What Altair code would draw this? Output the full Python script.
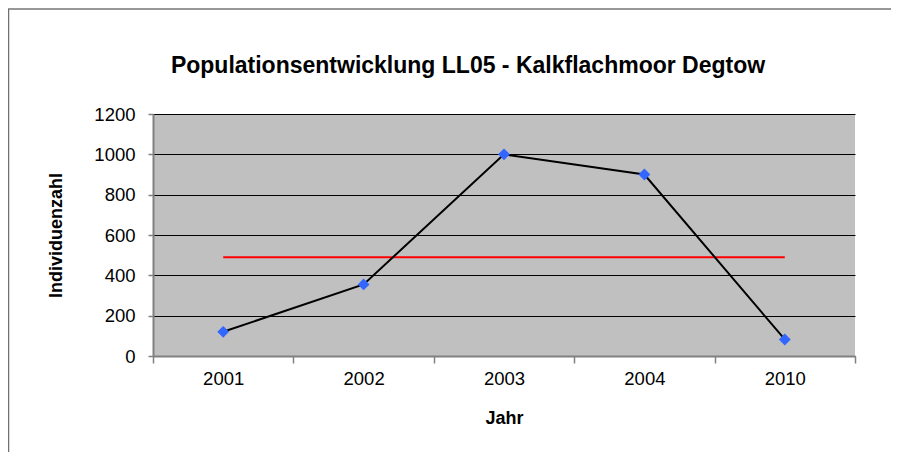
import altair as alt
import pandas as pd

years = ["2001", "2002", "2003", "2004", "2010"]
counts = [120, 355, 1000, 900, 82]
mean_line = [490, 490, 490, 490, 490]
title_text = ["Populationsentwicklung LL05 - Kalkflachmoor Degtow"]

df = pd.DataFrame({"Jahr": years, "Individuenzahl": counts, "Mittel": mean_line})

FONT = "Liberation Sans"

x_enc = alt.X(
    "Jahr:N",
    bandPosition=0.5,
    sort=years,
    scale=alt.Scale(type="band", paddingInner=0, paddingOuter=0),
    axis=alt.Axis(
        title="Jahr",
        labelAngle=0,
        tickBand="extent",
        tickSize=7,
        labelPadding=6,
        titlePadding=22,
        grid=False,
    ),
)
y_axis = alt.Axis(
    title="Individuenzahl",
    values=[0, 200, 400, 600, 800, 1000, 1200],
    format="d",
    tickSize=5,
    labelPadding=13,
    titlePadding=28,
    grid=True,
    gridColor="#000000",
    gridWidth=1,
)
y_scale = alt.Scale(domain=[0, 1200], nice=False)

base = alt.Chart(df)

red = base.mark_line(color="#FF0000", strokeWidth=2).encode(
    x=x_enc,
    y=alt.Y("Mittel:Q", scale=y_scale, axis=y_axis),
)
line = base.mark_line(color="#000000", strokeWidth=2).encode(
    x=x_enc,
    y=alt.Y("Individuenzahl:Q", scale=y_scale, axis=y_axis),
)
pts = base.mark_point(shape="diamond", filled=True, size=140, color="#3366FF", opacity=1).encode(
    x=x_enc,
    y=alt.Y("Individuenzahl:Q", scale=y_scale, axis=y_axis),
)

title = alt.Chart(pd.DataFrame({"t": title_text})).mark_text(
    font=FONT, fontSize=23, fontWeight="bold", color="#000000", align="center", baseline="alphabetic"
).encode(text="t:N", x=alt.value(315), y=alt.value(-41))

cover = alt.Chart(pd.DataFrame({"a": [0]})).mark_rect(fill="#FFFFFF", stroke=None).encode(
    x=alt.value(728), x2=alt.value(738), y=alt.value(-106), y2=alt.value(338)
)
frame_top = alt.Chart(pd.DataFrame({"a": [0]})).mark_rule(color="#333333", strokeWidth=1.2).encode(
    x=alt.value(-145), x2=alt.value(738), y=alt.value(-105)
)
frame_left = alt.Chart(pd.DataFrame({"a": [0]})).mark_rule(color="#707070", strokeWidth=1.5).encode(
    x=alt.value(-144.5), y=alt.value(-105), y2=alt.value(338)
)

chart = (
    alt.layer(cover, frame_top, frame_left, title, red, line, pts)
    .properties(
        width=702,
        height=242,
        autosize=alt.AutoSizeParams(type="none"),
        padding={"left": 145, "top": 106, "right": 36, "bottom": 96},
        background="#FFFFFF",
    )
    .configure_view(fill="#C0C0C0", strokeWidth=0)
    .configure_axis(
        labelFont=FONT,
        labelFontSize=18.5,
        labelColor="#000000",
        titleFont=FONT,
        titleFontSize=18,
        titleFontWeight="bold",
        titleColor="#000000",
        domainColor="#808080",
        domainWidth=2,
        tickColor="#808080",
        tickWidth=1.5,
    )
)

chart.save("out.html", embed_options={"renderer": "svg", "actions": False})
